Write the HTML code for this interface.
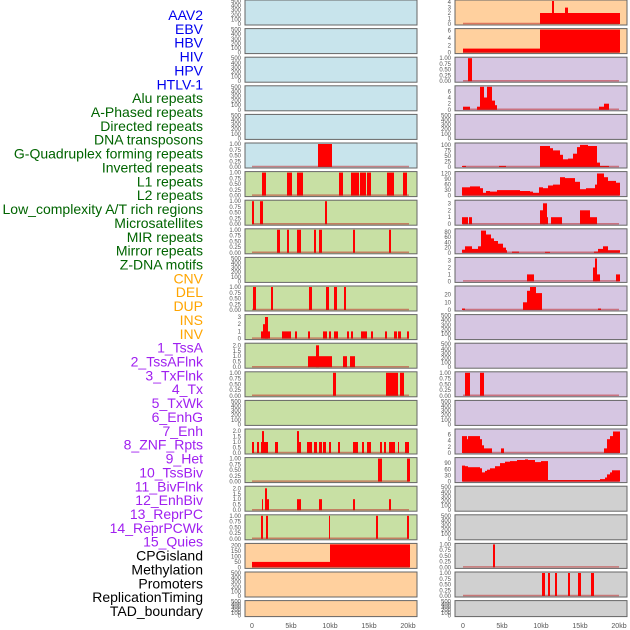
<!DOCTYPE html>
<html><head><meta charset="utf-8"><style>
html,body{margin:0;padding:0;background:#fff;width:630px;height:630px;overflow:hidden}
svg{display:block}
</style></head><body>
<svg id="s" width="630" height="630" xmlns="http://www.w3.org/2000/svg" font-family="Liberation Sans, sans-serif"></svg>
<script>
var s=document.getElementById('s'),h='';
var labels=[["AAV2","#0000ee"],["EBV","#0000ee"],["HBV","#0000ee"],["HIV","#0000ee"],["HPV","#0000ee"],["HTLV-1","#0000ee"],
["Alu repeats","#006400"],["A-Phased repeats","#006400"],["Directed repeats","#006400"],["DNA transposons","#006400"],["G-Quadruplex forming repeats","#006400"],["Inverted repeats","#006400"],["L1 repeats","#006400"],["L2 repeats","#006400"],["Low_complexity A/T rich regions","#006400"],["Microsatellites","#006400"],["MIR repeats","#006400"],["Mirror repeats","#006400"],["Z-DNA motifs","#006400"],
["CNV","#ffa500"],["DEL","#ffa500"],["DUP","#ffa500"],["INS","#ffa500"],["INV","#ffa500"],
["1_TssA","#a020f0"],["2_TssAFlnk","#a020f0"],["3_TxFlnk","#a020f0"],["4_Tx","#a020f0"],["5_TxWk","#a020f0"],["6_EnhG","#a020f0"],["7_Enh","#a020f0"],["8_ZNF_Rpts","#a020f0"],["9_Het","#a020f0"],["10_TssBiv","#a020f0"],["11_BivFlnk","#a020f0"],["12_EnhBiv","#a020f0"],["13_ReprPC","#a020f0"],["14_ReprPCWk","#a020f0"],["15_Quies","#a020f0"],
["CPGisland","#000"],["Methylation","#000"],["Promoters","#000"],["ReplicationTiming","#000"],["TAD_boundary","#000"]];
var sp=596/(labels.length-1);
labels.forEach(function(l,i){var y=15+i*sp+5;h+='<text x="203" y="'+y.toFixed(1)+'" text-anchor="end" font-size="14" fill="'+l[1]+'">'+l[0]+'</text>';});
var BL='#c8e4ec',GR='#c8e0a4',OR='#ffd09e',PU='#d6c6e2',GY='#d0d0d0';
var T500=[[1,'500'],[.8,'400'],[.6,'300'],[.4,'200'],[.2,'100'],[0,'0']];
var T1=[[1,'1.00'],[.75,'0.75'],[.5,'0.50'],[.25,'0.25'],[0,'0.00']];
function tk(max,arr){return arr.map(function(v){return [v/max,String(v)];});}
var full=function(a){return a.map(function(p){return [p[0],p[1],1];});};
var L=[
[BL,T500,[]],[BL,T500,[]],[BL,T500,[]],[BL,T500,[]],[BL,T500,[]],
[BL,T1,full([[318,332]])],
[GR,T1,full([[262,266],[287,292],[297,303],[339,343],[351,359],[360,366],[367,371],[387,394],[403,407]])],
[GR,T1,full([[252,254],[260,263],[325,327]])],
[GR,T1,full([[277,280],[287,289],[297,301],[314,316],[319,322],[353,355],[389,391]])],
[GR,T500,[]],
[GR,T1,full([[253,256],[271,273],[309,312],[326,329],[334,337],[344,346]])],
[GR,tk(3.2,[3,2,1,0]),[[261,270,1/3.2],[263,268,2/3.2],[265,268,3/3.2]].concat([[282,291],[295,297],[308,310],[323,327],[329,331],[334,338],[347,349],[351,353],[361,367],[371,373],[385,387],[394,397],[398,401],[407,409]].map(function(p){return [p[0],p[1],1/3.2];}))],
[GR,tk(2.1,[2.0,1.5,1.0,0.5,0.0]).map(function(t,i){return [t[0],['2.0','1.5','1.0','0.5','0.0'][i]];}),[[308,332,1/2.1],[316,319,2/2.1],[343,347,1/2.1],[350,355,1/2.1]]],
[GR,T1,full([[333,336],[386,398],[400,404]])],
[GR,T500,[]],
[GR,[[1/1.05,'2.0'],[.75/1.05,'1.5'],[.5/1.05,'1.0'],[.25/1.05,'0.5'],[0,'0.0']],[[252,254],[257,259],[261,264],[264,268],[275,278],[297,301],[307,312],[314,317],[319,322],[323,326],[329,331],[338,340],[353,358],[362,364],[367,371],[380,382],[384,386],[389,395],[398,399],[405,409]].map(function(p){return [p[0],p[1],.5/1.05];}).concat([[262,264,1/1.05],[297,299,1/1.05]])],
[GR,T1,full([[378,382],[407,410]])],
[GR,[[1/1.05,'2.0'],[.75/1.05,'1.5'],[.5/1.05,'1.0'],[.25/1.05,'0.5'],[0,'0.0']],[[262,263,.5/1.05],[265,267,1/1.05],[267,269,.5/1.05],[297,301,.5/1.05],[319,322,.5/1.05],[353,355,.5/1.05],[389,391,.5/1.05]]],
[GR,T1,full([[261,263],[266,268],[329,330],[376,378],[407,409]])],
[OR,tk(210,[200,150,100,50,0]),[[252,330,50/210],[330,410,1]]],
[OR,T500,[]],[OR,T500,[]]
];
function st(arr,max){return arr.map(function(p){return [p[0],p[1],p[2]/max];});}
var R=[
[OR,tk(4.2,[4,3,2,1,0]),[[540,620,2/4.2],[552,554,1],[565,568,3/4.2]]],
[OR,tk(6.3,[6,4,2,0]),[[463,540,1.1/6.3],[540,620,1]]],
[PU,T1,full([[468,472]])],
[PU,tk(7.5,[6,4,2,0]),st([[463,470,1],[477,480,1],[480,484,7.5],[484,487,4],[487,492,7.5],[492,495,3],[495,497,1.5],[599,604,1],[604,609,2]],7.5)],
[PU,T500,[]],
[PU,tk(104,[100,75,50,25,0]),st([[462,466,5],[499,506,5],[540,550,95],[550,553,85],[553,560,75],[560,563,55],[563,568,35],[568,573,38],[573,577,60],[577,580,90],[580,588,100],[588,597,95],[597,600,20],[600,609,5]],104)],
[PU,tk(125,[120,90,60,30,0]),st([[462,470,45],[470,480,50],[480,483,40],[483,486,15],[486,490,25],[490,497,22],[497,520,30],[520,530,25],[530,533,22],[533,539,15],[539,543,45],[543,548,40],[548,553,55],[553,560,60],[560,565,100],[565,575,95],[575,580,75],[580,586,35],[586,595,40],[595,597,60],[597,604,120],[604,608,100],[608,616,80],[616,620,70]],125)],
[PU,tk(3.3,[3,2,1,0]),st([[462,468,1],[469,472,1],[540,545,2],[543,547,3],[547,548,1],[551,562,1],[580,590,2],[590,597,1]],3.3)],
[PU,tk(88,[80,60,40,20,0]),st([[462,465,12],[465,472,25],[472,478,15],[478,481,25],[481,486,85],[486,491,70],[491,494,55],[494,498,45],[498,503,35],[503,506,20],[506,507,10],[512,519,5],[545,550,4],[594,598,5],[598,603,15],[603,608,25],[608,620,10]],88)],
[PU,tk(3.3,[3,2,1,0]),st([[527,534,1],[593,597,2],[595,597,3.3],[597,600,1],[616,620,1]],3.3)],
[PU,tk(30,[20,10,0]),st([[462,465,2],[523,527,10],[527,530,25],[530,536,30],[536,542,22],[598,601,2]],30)],
[PU,T500,[]],[PU,T500,[]],
[PU,T1,full([[465,470],[480,484]])],
[PU,T500,[]],
[PU,tk(7.5,[6,4,2,0]),st([[462,467,5.5],[467,468,4.5],[468,480,5.5],[480,482,4.5],[482,484,2.5],[484,492,1.5],[501,504,1.5],[604,607,1.5],[607,610,4.5],[610,613,5.5],[613,620,7]],7.5)],
[PU,tk(112,[90,60,30,0]),st([[462,465,78],[465,468,75],[468,480,70],[480,482,65],[482,485,45],[485,487,52],[487,490,58],[490,495,65],[495,500,75],[500,505,90],[505,510,97],[510,517,100],[517,525,105],[525,528,108],[528,535,105],[535,541,95],[541,548,100],[548,600,8],[600,605,12],[605,607,20],[607,610,35],[610,612,45],[612,620,55]],112)],
[GY,T500,[]],[GY,T500,[]],
[GY,T1,full([[493,495]])],
[GY,T1,full([[542,545],[548,550],[555,557],[568,570],[578,581],[591,594]])],
[GY,T500,[]]
];
function col(data,x0,x1,tx,b0,b1){
 data.forEach(function(p,i){
  var top=i*28.6, ht=(i==21?16:25), pt=top+1, pb=top+ht-1, ph=pb-pt;
  h+='<rect x="'+x0+'" y="'+top.toFixed(1)+'" width="'+(x1-x0)+'" height="'+ht+'" fill="'+p[0]+'" stroke="#666" stroke-width="1"/>';
  p[2].forEach(function(b){var y=pb-b[2]*ph;h+='<rect x="'+b[0]+'" y="'+y.toFixed(1)+'" width="'+(b[1]-b[0])+'" height="'+(pb-y).toFixed(1)+'" fill="#ff0000"/>';});
  if(p[1]!==T500) h+='<line x1="'+b0+'" x2="'+b1+'" y1="'+(pb-0.5).toFixed(1)+'" y2="'+(pb-0.5).toFixed(1)+'" stroke="rgba(190,30,30,0.5)" stroke-width="1.5"/>';
  p[1].forEach(function(t){var y=pb-t[0]*ph+2;h+='<text x="'+tx+'" y="'+y.toFixed(1)+'" text-anchor="end" font-size="6" fill="#555">'+t[1]+'</text>';});
 });
}
col(L,245,417,241,252,409);
col(R,455,627,451,463,619);
[[252,'0'],[291,'5kb'],[330,'10kb'],[369,'15kb'],[408,'20kb']].forEach(function(t){
 h+='<text x="'+t[0]+'" y="628" text-anchor="middle" font-size="7" fill="#555">'+t[1]+'</text>';
 h+='<text x="'+(t[0]+211)+'" y="628" text-anchor="middle" font-size="7" fill="#555">'+t[1]+'</text>';});
s.innerHTML=h;
</script>
</body></html>
